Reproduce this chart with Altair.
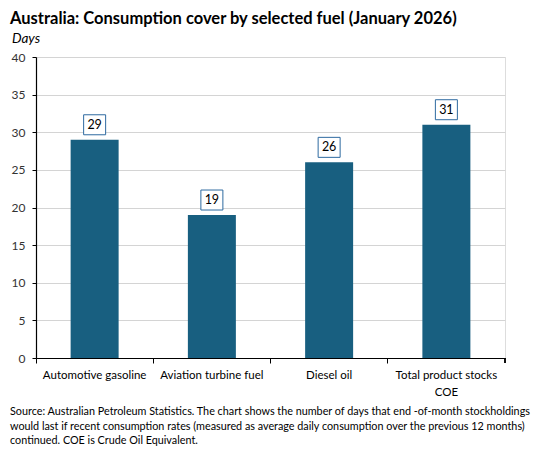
import altair as alt
import pandas as pd

fuels = ["Automotive gasoline", "Aviation turbine fuel", "Diesel oil", "Total product stocks COE"]
days = [29, 19, 26, 31]

title_text = "Australia: Consumption cover by selected fuel (January 2026)"
source_lines = [
    "Source: Australian Petroleum Statistics. The chart shows the number of days that end -of-month stockholdings",
    "would last if recent consumption rates (measured as average daily consumption over the previous 12 months)",
    "continued. COE is Crude Oil Equivalent.",
]

FONT = "Lato"
BAR = "#185f80"
W, H = 469, 301

df = pd.DataFrame({"fuel": fuels, "days": days})

x = alt.X(
    "fuel:N",
    sort=fuels,
    title=None,
    scale=alt.Scale(paddingInner=0, paddingOuter=0),
    axis=alt.Axis(
        bandPosition=0,
        tickSize=5,
        tickColor="black",
        domainColor="black",
        labelAngle=0,
        labelFont=FONT,
        labelFontSize=11.5,
        labelColor="black",
        labelPadding=6,
        labelLineHeight=17,
        labelBaseline="top",
        labelExpr="datum.label == 'Total product stocks COE' ? ['Total product stocks', 'COE'] : datum.label",
    ),
)
y = alt.Y(
    "days:Q",
    title=None,
    scale=alt.Scale(domain=[0, 40]),
    axis=alt.Axis(
        values=list(range(0, 41, 5)),
        tickSize=4,
        tickColor="black",
        domainColor="black",
        domainWidth=1.2,
        gridColor="#d4d4d4",
        labelFont=FONT,
        labelFontSize=12,
        labelColor="#333333",
        labelPadding=7,
    ),
)

base = alt.Chart(df).encode(x=x, y=y)
bars = base.mark_bar(color=BAR, size=48)
boxes = base.mark_point(
    shape="M-1.1,-1H1.1V1H-1.1Z",
    size=400,
    filled=False,
    fill="white",
    fillOpacity=1,
    stroke="#2e6aa0",
    strokeWidth=1,
    opacity=1,
    yOffset=-15,
)
labels = base.mark_text(font=FONT, fontSize=12.5, color="black", dy=-15, baseline="middle").encode(
    text="days:Q"
)

title_df = pd.DataFrame({"t": [title_text]})
title = alt.Chart(title_df).mark_text(
    font=FONT, fontSize=16.5, fontWeight="bold", align="left", baseline="alphabetic", color="black"
).encode(text="t:N", x=alt.value(-26), y=alt.value(-33))

days_lbl = alt.Chart(pd.DataFrame({"t": ["Days"]})).mark_text(
    font=FONT, fontSize=13.5, fontStyle="italic", align="left", baseline="alphabetic", color="black"
).encode(text="t:N", x=alt.value(-24), y=alt.value(-14))

src = alt.Chart(pd.DataFrame({"t": [source_lines]})).mark_text(
    font=FONT, fontSize=10.8, align="left", baseline="alphabetic", color="black", lineHeight=14.5
).encode(text="t:N", x=alt.value(-26), y=alt.value(358))

end_tick = alt.Chart(df).mark_rule(color="black").encode(
    x=alt.value(W), y=alt.value(H), y2=alt.value(H + 5)
)

chart = alt.layer(bars, boxes, labels, end_tick, title, days_lbl, src).properties(
    width=W,
    height=H,
    autosize=alt.AutoSizeParams(type="none"),
    padding={"left": 28, "top": 49, "right": 36, "bottom": 88},
).configure_view(stroke=None).configure(background="white")

chart.save("out.html", embed_options={"renderer": "svg", "actions": False})
